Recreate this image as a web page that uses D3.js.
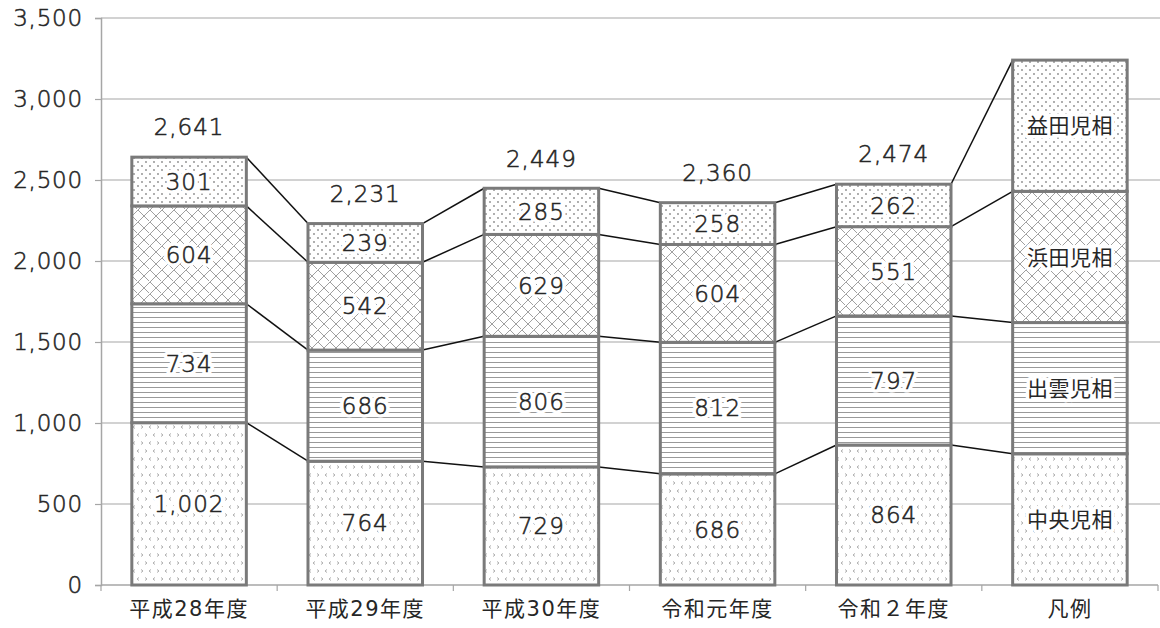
<!DOCTYPE html>
<html lang="ja">
<head>
<meta charset="UTF-8">
<title>児童相談所 相談件数</title>
<script src="https://d3js.org/d3.v7.min.js"></script>
<style>
  body { margin: 0; background: #fff; }
  text { font-family: "DejaVu Sans", "Noto Sans CJK JP", sans-serif; }
  .lt { font-weight: 200; stroke: #262626; stroke-width: 0.55px; }
</style>
</head>
<body>
<svg id="chart" width="1160" height="628"></svg>
<script>
// categories (last one is the legend bar)
const years = ["平成28年度", "平成29年度", "平成30年度", "令和元年度", "令和２年度", "凡例"];
const seriesNames = ["中央児相", "出雲児相", "浜田児相", "益田児相"];

// values per series, bottom to top
const chuo   = [1002, 764, 729, 686, 864];
const izumo  = [734, 686, 806, 812, 797];
const hamada = [604, 542, 629, 604, 551];
const masuda = [301, 239, 285, 258, 262];
const legendValues = [810, 810, 810, 810];

const yTicks = [0, 500, 1000, 1500, 2000, 2500, 3000, 3500];

const svg = d3.select("#chart");
const fmt = d3.format(",");

const x = d3.scaleBand().domain(years).range([101, 1158]).paddingInner(0.35).paddingOuter(0.175);
const y = d3.scaleLinear().domain([0, 3500]).range([585, 18]);

// ---------- patterns ----------
const defs = svg.append("defs");
const grey = "#8a8a8a";

const pConf = defs.append("pattern").attr("id", "p0").attr("patternUnits", "userSpaceOnUse")
  .attr("width", 16).attr("height", 16);
pConf.append("rect").attr("width", 16).attr("height", 16).attr("fill", "#fff");
[[2, 3, 1], [10, 3, -1], [6, 11, -1], [14, 11, 1]].forEach(([cx, cy, d]) => {
  pConf.append("path").attr("d", `M${cx - d},${cy - 1.5} L${cx + d},${cy} L${cx - d},${cy + 1.5}`)
    .attr("fill", "none").attr("stroke", "#999").attr("stroke-width", 0.8);
});

const pLines = defs.append("pattern").attr("id", "p1").attr("patternUnits", "userSpaceOnUse")
  .attr("width", 8).attr("height", 5);
pLines.append("rect").attr("width", 8).attr("height", 5).attr("fill", "#fff");
pLines.append("line").attr("x1", 0).attr("x2", 8).attr("y1", 2.5).attr("y2", 2.5)
  .attr("stroke", "#999").attr("stroke-width", 1);

const pHatch = defs.append("pattern").attr("id", "p2").attr("patternUnits", "userSpaceOnUse")
  .attr("width", 12).attr("height", 12);
pHatch.append("rect").attr("width", 12).attr("height", 12).attr("fill", "#fff");
pHatch.append("path").attr("d", "M0,12 L12,0 M-3,3 L3,-3 M9,15 L15,9")
  .attr("stroke", "#a0a0a0").attr("stroke-width", 1).attr("fill", "none");
pHatch.append("path").attr("d", "M0,0 L5,5 M6,6 L12,12")
  .attr("stroke", "#a0a0a0").attr("stroke-width", 1).attr("fill", "none");

const pDots = defs.append("pattern").attr("id", "p3").attr("patternUnits", "userSpaceOnUse")
  .attr("width", 8).attr("height", 8);
pDots.append("rect").attr("width", 8).attr("height", 8).attr("fill", "#fff");
[[2, 2], [6, 6]].forEach(([cx, cy]) => {
  pDots.append("circle").attr("cx", cx).attr("cy", cy).attr("r", 0.9).attr("fill", grey);
});

// ---------- grid + axes ----------
svg.append("g").selectAll("line").data(yTicks.slice(1)).join("line")
  .attr("x1", 101).attr("x2", 1160)
  .attr("y1", d => y(d)).attr("y2", d => y(d))
  .attr("stroke", "#a6a6a6").attr("stroke-width", 1.2);

const yAxis = svg.append("g").attr("transform", "translate(101,0)")
  .call(d3.axisLeft(y).tickValues(yTicks).tickSize(6).tickPadding(12).tickFormat(fmt));
yAxis.attr("font-family", null).attr("font-size", null);
yAxis.select(".domain").attr("stroke", "#a6a6a6").attr("stroke-width", 1.5);
yAxis.selectAll(".tick line").attr("stroke", "#a6a6a6").attr("stroke-width", 1.2);
yAxis.selectAll(".tick text").attr("class", "lt").attr("font-size", 23).attr("fill", "#262626")
  .attr("letter-spacing", 0.8);

svg.append("line").attr("x1", 101).attr("x2", 1158).attr("y1", y(0)).attr("y2", y(0))
  .attr("stroke", "#a6a6a6").attr("stroke-width", 1.5);
const bounds = years.map(d => x(d) - x.step() * x.paddingInner() / 2);
bounds[0] = 101;
bounds.push(1158);
svg.append("g").selectAll("line").data(bounds).join("line")
  .attr("x1", d => d).attr("x2", d => d).attr("y1", y(0)).attr("y2", y(0) + 6)
  .attr("stroke", "#a6a6a6").attr("stroke-width", 1.2);
svg.append("g").selectAll("text").data(years).join("text")
  .attr("x", d => x(d) + x.bandwidth() / 2).attr("y", 616)
  .attr("text-anchor", "middle").attr("font-size", 21).attr("fill", "#262626")
  .attr("letter-spacing", 1.5)
  .text(d => d);

// ---------- stacked data ----------
const seriesVals = [chuo, izumo, hamada, masuda];
const columns = years.map((yr, i) => {
  const vals = i < chuo.length ? seriesVals.map(s => s[i]) : legendValues;
  let acc = 0;
  const segs = vals.map((v, k) => {
    const s = { k, v, y0: acc, y1: acc + v };
    acc += v;
    return s;
  });
  return { yr, i, segs, total: acc, legend: i >= chuo.length };
});

// connector lines
const conn = [];
for (let i = 0; i < columns.length - 1; i++) {
  const a = columns[i], b = columns[i + 1];
  for (let k = 0; k < 4; k++) {
    conn.push({ x1: x(a.yr) + x.bandwidth(), y1: y(a.segs[k].y1), x2: x(b.yr), y2: y(b.segs[k].y1) });
  }
}
svg.append("g").selectAll("line").data(conn).join("line")
  .attr("x1", d => d.x1).attr("y1", d => d.y1).attr("x2", d => d.x2).attr("y2", d => d.y2)
  .attr("stroke", "#111").attr("stroke-width", 1.5);

// bars
const col = svg.append("g").selectAll("g").data(columns).join("g");
col.selectAll("rect").data(d => d.segs.map(s => ({ ...s, yr: d.yr }))).join("rect")
  .attr("x", d => x(d.yr)).attr("width", x.bandwidth())
  .attr("y", d => y(d.y1)).attr("height", d => y(d.y0) - y(d.y1))
  .attr("fill", d => `url(#p${d.k})`)
  .attr("stroke", "#7a7a7a").attr("stroke-width", 3);

// segment labels: white halo copy underneath, then the text
const segData = d => d.segs.map(s => ({ ...s, yr: d.yr, legend: d.legend }));
const segText = sel => sel
  .attr("x", d => x(d.yr) + x.bandwidth() / 2)
  .attr("y", d => y((d.y0 + d.y1) / 2))
  .attr("dy", "0.36em")
  .attr("text-anchor", "middle")
  .attr("font-size", d => d.legend ? 21 : 23)
  .attr("letter-spacing", d => d.legend ? 0.5 : 1)
  .text(d => d.legend ? seriesNames[d.k] : fmt(d.v));

col.selectAll("text.halo").data(segData).join("text")
  .attr("class", "halo").call(segText)
  .attr("fill", "#fff").attr("stroke", "#fff").attr("stroke-width", 7).attr("stroke-linejoin", "round");
col.selectAll("text.seg").data(segData).join("text")
  .attr("class", d => d.legend ? "seg" : "seg lt").call(segText)
  .attr("fill", "#262626");

// totals
col.filter(d => !d.legend).append("text")
  .attr("class", "lt")
  .attr("x", d => x(d.yr) + x.bandwidth() / 2)
  .attr("y", d => y(d.total) - 30)
  .attr("dy", "0.36em")
  .attr("text-anchor", "middle").attr("font-size", 23).attr("fill", "#262626")
  .attr("letter-spacing", 1)
  .text(d => fmt(d.total));
</script>
</body>
</html>
